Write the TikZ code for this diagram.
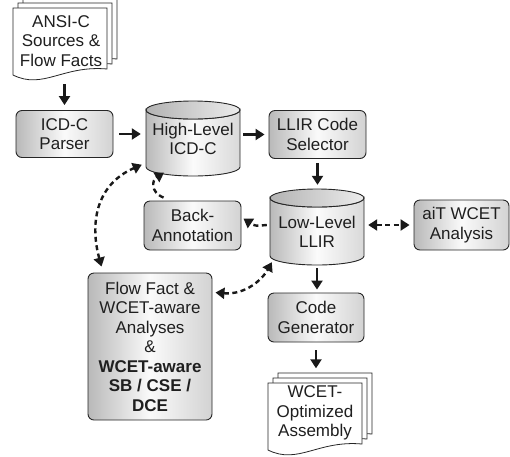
\documentclass[tikz,border=0pt]{standalone}
\usepackage{fontspec}
\setmainfont{Liberation Sans}
\usetikzlibrary{arrows.meta}

% one sheet of a document stack, top-left corner at (#1,#2)
\newcommand\docsheet[2]{%
  \path[page] (#1,#2) -- ({#1+94},#2) -- ({#1+94},{#2+61})
    .. controls ({#1+50},{#2+57}) and ({#1+30},{#2+82}) .. (#1,{#2+67}) -- cycle;}

% a drum (database) body, centre x #1, top #2, bottom #3, half width #4, cap radius #5
\newcommand\drumbody[5]{%
  \path[drumside] ({#1-#4},{#2+#5}) -- ({#1-#4},{#3-#5})
    arc[start angle=180,end angle=0,x radius=#4,y radius=#5]
    -- ({#1+#4},{#2+#5})
    arc[start angle=0,end angle=180,x radius=#4,y radius=#5] -- cycle;
  \path[drumcap] (#1,{#2+#5}) ellipse[x radius=#4,y radius=#5];}

\begin{document}
\begin{tikzpicture}[x=1pt,y=-1pt,
  font=\fontsize{17}{19.5}\selectfont,
  txt/.style={text=black!88, align=center, inner sep=0pt},
  procbox/.style={draw=black!85, line width=0.9pt, rounded corners=6pt,
    left color=gray!55, right color=gray!35, middle color=gray!4, txt},
  page/.style={draw=black!85, line width=0.8pt, fill=white},
  drumside/.style={draw=black!85, line width=0.9pt,
    left color=gray!55, right color=gray!30, middle color=gray!3},
  drumcap/.style={draw=black!85, line width=0.9pt,
    left color=gray!60, right color=gray!15},
  arr/.style={draw=black!90, line width=2.4pt, -{Triangle[length=9pt,width=11pt]}},
  darr/.style={arr, dash pattern=on 5pt off 3.5pt},
  ddarr/.style={darr, {Triangle[length=9pt,width=11pt]}-{Triangle[length=9pt,width=11pt]}},
]
\useasboundingbox (0,0) rectangle (510,456);

% input sources
\docsheet{23}{-2}
\docsheet{18}{3}
\docsheet{13}{8}
\node[txt, minimum width=94pt, minimum height=72pt] (docA) at (61,41)
  {ANSI-C\\Sources \&\\Flow Facts};

% front end
\node[procbox, minimum width=97pt, minimum height=47pt] (parser) at (64.5,134) {ICD-C\\Parser};

\drumbody{193}{101}{176}{47}{9}
\node[txt, minimum width=94pt, minimum height=75pt] (hl) at (193,139) {High-Level\\ICD-C};

\node[procbox, minimum width=97pt, minimum height=48pt] (sel) at (317.5,134.5) {LLIR Code\\Selector};

% low-level representation
\drumbody{317}{189}{265}{47}{9}
\node[txt, minimum width=94pt, minimum height=76pt] (ll) at (317,227) {};
\node[txt] (lltext) at (317,232) {Low-Level\\LLIR};

\node[procbox, minimum width=97pt, minimum height=49pt] (ba) at (192.5,225.5) {Back-\\Annotation};
\node[procbox, minimum width=95pt, minimum height=50pt] (ait) at (461.5,225) {aiT WCET\\Analysis};

\node[procbox, minimum width=124pt, minimum height=147pt] (ff) at (150,346.5)
  {Flow Fact \&\\WCET-aware\\Analyses\\\&\\\textbf{WCET-aware}\\\textbf{SB / CSE /}\\\textbf{DCE}};

\node[procbox, minimum width=96pt, minimum height=49pt] (cg) at (316,317.5) {Code\\Generator};

% output assembly
\docsheet{278}{373}
\docsheet{273}{378}
\docsheet{268}{383}
\node[txt, minimum width=94pt, minimum height=67pt] (docB) at (315,413)
  {WCET-\\Optimized\\Assembly};

% main flow
\draw[arr, shorten <=7pt, shorten >=5pt] (docA.south -| parser.north) -- (parser.north);
\draw[arr, shorten <=6pt, shorten >=5pt] (parser.east) -- (parser.east -| hl.west);
\draw[arr, shorten <=3pt, shorten >=4pt] (sel.west -| hl.east) -- (sel.west);
\draw[arr, shorten <=4pt, shorten >=4pt] (sel.south) -- (sel.south |- ll.north);
\draw[arr, shorten <=3pt, shorten >=3pt] (ll.south) -- (ll.south |- cg.north);
\draw[arr, shorten <=8pt, shorten >=11pt] (cg.south) -- (cg.south |- docB.north);

% analysis and annotation exchange
\draw[ddarr, shorten <=4pt, shorten >=4pt] (ll.east |- ait.west) -- (ait.west);
\draw[darr] ([shift={(-3,-2)}]ll.west) .. controls +(-12,1) .. ([shift={(2,-7)}]ba.east);
\draw[darr] ([shift={(-29,-3)}]ba.north) .. controls (150,192) and (152,180) .. ([shift={(-29,-4)}]hl.south);
\draw[ddarr] ([shift={(14,-6)}]ff.north west) .. controls (90,225) and (95,185) .. ([shift={(-4,-12)}]hl.south west);
\draw[ddarr] ([shift={(3,20)}]ff.north east) .. controls (245,295) and (262,280) .. ([shift={(2,-3)}]ll.south west);
\end{tikzpicture}
\end{document}
